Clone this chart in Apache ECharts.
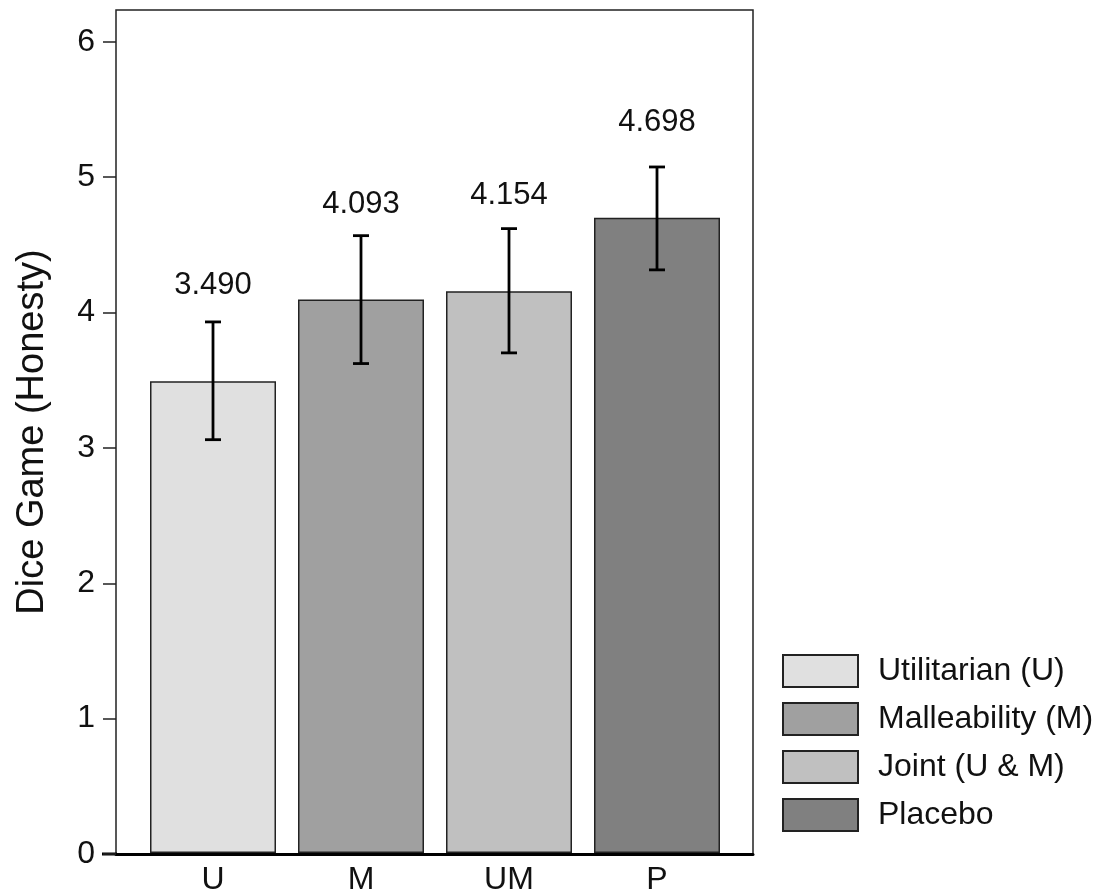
<!DOCTYPE html>
<html>
<head>
<meta charset="utf-8">
<script src="https://cdn.jsdelivr.net/npm/echarts@6/dist/echarts.min.js"></script>
<style>
  html, body { margin: 0; padding: 0; background: #fff; }
  #chart { width: 1104px; height: 896px; }
</style>
</head>
<body>
<div id="chart"></div>
<script>
// 数据
const categories = ['U', 'M', 'UM', 'P']
const groupNames = ['Utilitarian (U)', 'Malleability (M)', 'Joint (U & M)', 'Placebo']
const means = [3.490, 4.093, 4.154, 4.698]
const errLow = [3.057, 3.620, 3.699, 4.313]
const errHigh = [3.928, 4.566, 4.618, 5.074]
const barColors = ['#e0e0e0', '#a0a0a0', '#c0c0c0', '#808080']
const yTicks = [0, 1, 2, 3, 4, 5, 6]

const FONT = 'Liberation Sans'
const Y_MAX = 6.235

const chart = echarts.init(document.getElementById('chart'))

// 每个组一个系列，这样图例能显示四项
const barSeries = groupNames.map((name, i) => ({
  name,
  type: 'bar',
  stack: 'all',
  xAxisIndex: 0,
  yAxisIndex: 0,
  barWidth: 126,
  data: categories.map((_, j) => (j === i ? means[i] : '-')),
  itemStyle: { color: barColors[i], borderColor: '#222', borderWidth: 1.5 },
  label: {
    show: true,
    position: 'top',
    distance: 80,
    fontSize: 31,
    fontFamily: FONT,
    color: '#111',
    formatter: (p) => p.value.toFixed(3),
  },
  emphasis: { disabled: true },
}))

// 误差线
const errorSeries = {
  type: 'custom',
  xAxisIndex: 0,
  yAxisIndex: 0,
  z: 10,
  data: categories.map((_, i) => [i, errLow[i], errHigh[i]]),
  renderItem: (params, api) => {
    const lo = api.coord([api.value(0), api.value(1)])
    const hi = api.coord([api.value(0), api.value(2)])
    const hw = 8
    const style = { stroke: '#000', lineWidth: 2.8 }
    return {
      type: 'group',
      children: [
        { type: 'line', shape: { x1: lo[0], y1: lo[1], x2: hi[0], y2: hi[1] }, style },
        { type: 'line', shape: { x1: hi[0] - hw, y1: hi[1], x2: hi[0] + hw, y2: hi[1] }, style },
        { type: 'line', shape: { x1: lo[0] - hw, y1: lo[1], x2: lo[0] + hw, y2: lo[1] }, style },
      ],
    }
  },
}

const option = {
  animation: false,
  backgroundColor: '#fff',
  textStyle: { fontFamily: FONT },
  legend: {
    orient: 'vertical',
    left: 777,
    top: 649,
    itemWidth: 75,
    itemHeight: 32,
    itemGap: 14,
    icon: 'rect',
    data: groupNames,
    textStyle: { fontSize: 32, lineHeight: 32, fontFamily: FONT, color: '#111', padding: [0, 0, 0, 15] },
  },
  grid: [
    // 柱子所在的网格
    { left: 139, width: 592, top: 10, height: 844 },
    // 外框
    { left: 116, width: 637, top: 10, height: 844, show: true, borderColor: '#222', borderWidth: 1.5 },
  ],
  xAxis: [
    {
      type: 'category',
      gridIndex: 0,
      data: categories,
      axisLine: { show: false },
      axisTick: { show: false },
      axisLabel: { fontSize: 32, fontFamily: FONT, color: '#111', margin: 11 },
    },
    {
      type: 'value',
      gridIndex: 1,
      min: 0,
      max: 1,
      axisLine: { show: true, lineStyle: { color: '#000', width: 3 } },
      axisTick: { show: false },
      axisLabel: { show: false },
      splitLine: { show: false },
    },
  ],
  yAxis: [
    {
      type: 'value',
      gridIndex: 0,
      min: 0,
      max: Y_MAX,
      show: false,
      splitLine: { show: false },
    },
    {
      type: 'value',
      gridIndex: 1,
      min: 0,
      max: Y_MAX,
      name: 'Dice Game (Honesty)',
      nameLocation: 'middle',
      nameGap: 64,
      nameTextStyle: { fontSize: 38, fontFamily: FONT, color: '#111' },
      axisLine: { show: false },
      axisTick: { show: true, length: 13, lineStyle: { color: '#222', width: 1.5 }, customValues: yTicks },
      axisLabel: { fontSize: 32, fontFamily: FONT, color: '#111', margin: 21, customValues: yTicks },
      splitLine: { show: false },
    },
  ],
  graphic: [
    // 底部轴线向左延伸一点
    { type: 'line', shape: { x1: 102, y1: 854, x2: 117, y2: 854 }, style: { stroke: '#000', lineWidth: 3 } },
  ],
  series: [...barSeries, errorSeries],
}

chart.setOption(option)
</script>
</body>
</html>
